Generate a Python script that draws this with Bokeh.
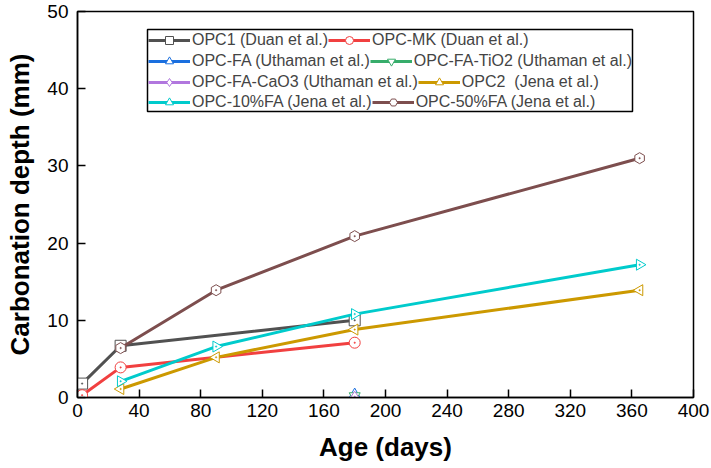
import math
from bokeh.plotting import figure
from bokeh.models import Legend, LegendItem, BoxAnnotation, FixedTicker
from bokeh.embed import file_html
from bokeh.resources import INLINE

# ---- data ----
opc1_age = [3, 28, 180]
opc1_depth = [1.8, 6.7, 10.0]
mk_age = [3, 28, 180]
mk_depth = [0.3, 3.9, 7.1]
fa_age = [180]
fa_depth = [0.4]
tio2_age = [180]
tio2_depth = [0.2]
cao3_age = [180]
cao3_depth = [0.1]
opc2_age = [28, 90, 180, 365]
opc2_depth = [1.1, 5.2, 8.8, 13.9]
fa10_age = [28, 90, 180, 365]
fa10_depth = [2.1, 6.6, 10.8, 17.2]
fa50_age = [28, 90, 180, 365]
fa50_depth = [6.4, 13.9, 20.9, 31.0]

x_ticks = [0, 40, 80, 120, 160, 200, 240, 280, 320, 360, 400]
y_ticks = [0, 10, 20, 30, 40, 50]

series = [
    ("OPC1 (Duan et al.)", opc1_age, opc1_depth, "#515151", "square", 0.0),
    ("OPC-MK (Duan et al.)", mk_age, mk_depth, "#F14040", "circle", 0.0),
    ("OPC-FA (Uthaman et al.)", fa_age, fa_depth, "#1A6FDF", "triangle", 0.0),
    ("OPC-FA-TiO2 (Uthaman et al.)", tio2_age, tio2_depth, "#37AD6B", "inverted_triangle", 0.0),
    ("OPC-FA-CaO3 (Uthaman et al.)", cao3_age, cao3_depth, "#B177DE", "diamond", 0.0),
    ("OPC2  (Jena et al.)", opc2_age, opc2_depth, "#CC9900", "triangle", math.pi / 2),
    ("OPC-10%FA (Jena et al.)", fa10_age, fa10_depth, "#00CBCC", "triangle", -math.pi / 2),
    ("OPC-50%FA (Jena et al.)", fa50_age, fa50_depth, "#7D4E4E", "hex", math.pi / 2),
]

FONT = "Liberation Sans"

p = figure(frame_width=616, frame_height=386, output_backend="svg", toolbar_location=None,
           x_range=(0, 400), y_range=(0, 50),
           min_border_left=77, min_border_right=18, min_border_top=11, min_border_bottom=71)
p.grid.visible = False
p.outline_line_color = "black"
p.outline_line_width = 1.5
p.background_fill_color = "white"
p.border_fill_color = "white"

for ax in (p.xaxis[0], p.yaxis[0]):
    ax.axis_line_color = "black"
    ax.axis_line_width = 1.5
    ax.major_tick_in = 8
    ax.major_tick_out = 0
    ax.major_tick_line_width = 1.5
    ax.major_tick_line_color = "black"
    ax.minor_tick_line_color = None
    ax.major_label_text_font = FONT
    ax.major_label_text_font_size = "19px"
    ax.major_label_text_color = "black"
    ax.axis_label_text_font = FONT
    ax.axis_label_text_font_size = "26px"
    ax.axis_label_text_font_style = "bold"
    ax.axis_label_text_color = "black"

p.xaxis.ticker = FixedTicker(ticks=x_ticks)
p.yaxis.ticker = FixedTicker(ticks=y_ticks)
p.xaxis.axis_label = "Age (days)"
p.yaxis.axis_label = "Carbonation depth (mm)"
p.xaxis.major_label_standoff = 6
p.yaxis.major_label_standoff = 9
p.xaxis.axis_label_standoff = 12
p.yaxis.axis_label_standoff = 9

items = []
for label, xs, ys, color, marker, ang in series:
    lr = p.line(xs, ys, line_color=color, line_width=3)
    sr = p.scatter(xs, ys, marker=marker, size=11, angle=ang, fill_color="white",
                   line_color=color, line_width=1)
    p.scatter(xs, ys, marker="circle", size=1.5, fill_color=color,
              line_color=color, line_width=0.5)
    items.append(LegendItem(label=label, renderers=[lr, sr]))

# legend frame (screen units, relative to the plot frame, y upward from its bottom)
box = BoxAnnotation(left=70, right=555, top=368, bottom=286,
                    left_units="screen", right_units="screen",
                    top_units="screen", bottom_units="screen",
                    fill_alpha=0, line_color="black", line_alpha=1.0, line_width=1.5)
p.add_layout(box)

row_bottoms = [347, 326, 305, 285]
for r in range(4):
    lg = Legend(items=items[2 * r:2 * r + 2], orientation="horizontal",
                location=(71, row_bottoms[r]), spacing=0, padding=0, margin=0,
                glyph_width=42, glyph_height=20, label_height=20, label_standoff=2,
                label_text_font=FONT, label_text_font_size="16px",
                border_line_alpha=0, background_fill_alpha=0)
    p.add_layout(lg, "center")

open("out.html", "w").write(file_html(p, INLINE))
